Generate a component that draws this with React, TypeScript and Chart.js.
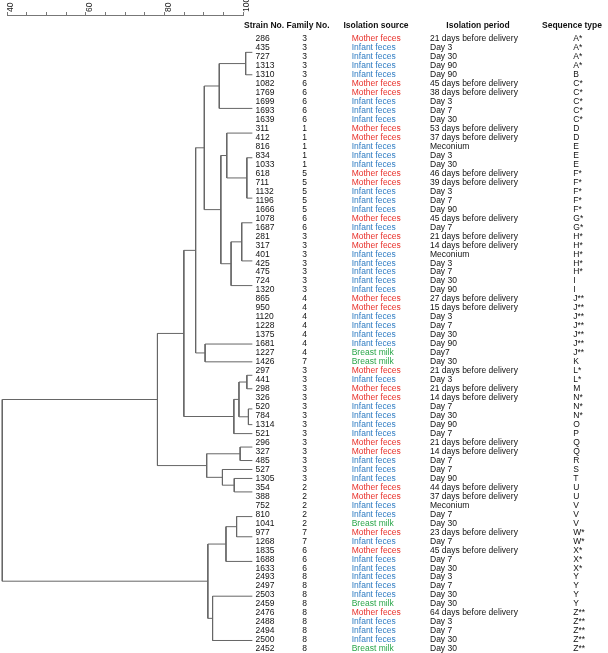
import React, { useEffect, useRef } from 'react';
import { Chart, registerables } from 'chart.js';

Chart.register(...registerables);

// ---------------- data ----------------
const strainNo = [
  286, 435, 727, 1313, 1310, 1082, 1769, 1699, 1693, 1639, 311, 412, 816, 834, 1033,
  618, 711, 1132, 1196, 1666, 1078, 1687, 281, 317, 401, 425, 475, 724, 1320, 865,
  950, 1120, 1228, 1375, 1681, 1227, 1426, 297, 441, 298, 326, 520, 784, 1314, 521,
  296, 327, 485, 527, 1305, 354, 388, 752, 810, 1041, 977, 1268, 1835, 1688, 1633,
  2493, 2497, 2503, 2459, 2476, 2488, 2494, 2500, 2452,
];

const familyNo = [
  3, 3, 3, 3, 3, 6, 6, 6, 6, 6, 1, 1, 1, 1, 1, 5, 5, 5, 5, 5, 6, 6, 3, 3, 3, 3, 3, 3, 3,
  4, 4, 4, 4, 4, 4, 4, 7, 3, 3, 3, 3, 3, 3, 3, 3, 3, 3, 3, 3, 3, 2, 2, 2, 2, 2, 7, 7,
  6, 6, 6, 8, 8, 8, 8, 8, 8, 8, 8, 8,
];

const M = 'Mother feces';
const I = 'Infant feces';
const B = 'Breast milk';
const isolationSource = [
  M, I, I, I, I, M, M, I, I, I, M, M, I, I, I, M, M, I, I, I, M, I, M, M, I, I, I, I, I,
  M, M, I, I, I, I, B, B, M, I, M, M, I, I, I, I, M, M, I, I, I, M, M, I, I, B, M, I,
  M, I, I, I, I, I, B, M, I, I, I, B,
];

const isolationPeriod = [
  '21 days before delivery', 'Day 3', 'Day 30', 'Day 90', 'Day 90',
  '45 days before delivery', '38 days before delivery', 'Day 3', 'Day 7', 'Day 30',
  '53 days before delivery', '37 days before delivery', 'Meconium', 'Day 3', 'Day 30',
  '46 days before delivery', '39 days before delivery', 'Day 3', 'Day 7', 'Day 90',
  '45 days before delivery', 'Day 7',
  '21 days before delivery', '14 days before delivery', 'Meconium', 'Day 3', 'Day 7',
  'Day 30', 'Day 90',
  '27 days before delivery', '15 days before delivery', 'Day 3', 'Day 7', 'Day 30', 'Day 90', 'Day7',
  'Day 30',
  '21 days before delivery', 'Day 3',
  '21 days before delivery',
  '14 days before delivery', 'Day 7', 'Day 30',
  'Day 90',
  'Day 7',
  '21 days before delivery', '14 days before delivery',
  'Day 7', 'Day 7', 'Day 90',
  '44 days before delivery', '37 days before delivery',
  'Meconium', 'Day 7', 'Day 30',
  '23 days before delivery', 'Day 7',
  '45 days before delivery', 'Day 7', 'Day 30',
  'Day 3', 'Day 7', 'Day 30', 'Day 30',
  '64 days before delivery', 'Day 3', 'Day 7', 'Day 30', 'Day 30',
];

const sequenceType = [
  'A*', 'A*', 'A*', 'A*', 'B', 'C*', 'C*', 'C*', 'C*', 'C*', 'D', 'D', 'E', 'E', 'E',
  'F*', 'F*', 'F*', 'F*', 'F*', 'G*', 'G*', 'H*', 'H*', 'H*', 'H*', 'H*', 'I', 'I',
  'J**', 'J**', 'J**', 'J**', 'J**', 'J**', 'J**', 'K', 'L*', 'L*', 'M', 'N*', 'N*', 'N*',
  'O', 'P', 'Q', 'Q', 'R', 'S', 'T', 'U', 'U', 'V', 'V', 'V', 'W*', 'W*', 'X*', 'X*', 'X*',
  'Y', 'Y', 'Y', 'Y', 'Z**', 'Z**', 'Z**', 'Z**', 'Z**',
];

const headers = ['Strain No.', 'Family No.', 'Isolation source', 'Isolation period', 'Sequence type'];

// similarity axis
const axisTicks = [40, 45, 50, 55, 60, 65, 70, 75, 80, 85, 90, 95, 100];
const axisLabels = [40, 60, 80, 100];

// leaf tips (identical profiles join here)
const LEAF = 102.3;

// dendrogram: [left, right, similarity]; leaves are strain numbers
const tree: any = [
  [
    [
      [
        [
          [
            [[[286, 435, LEAF], [727, 1313, LEAF], LEAF], 1310, 100.6],
            [[[1082, 1769, LEAF], [1699, 1693, LEAF], LEAF], 1639, LEAF],
            93.9,
          ],
          [
            [
              [311, 412, LEAF],
              [
                [[816, 834, LEAF], 1033, LEAF],
                [[[618, 711, LEAF], [1132, 1196, LEAF], LEAF], 1666, LEAF],
                100.9,
              ],
              95.8,
            ],
            [
              [[1078, 1687, LEAF], [[[281, 317, LEAF], [401, 425, LEAF], LEAF], 475, LEAF], 99.6],
              [724, 1320, LEAF],
              96.9,
            ],
            94.3,
          ],
          90.1,
        ],
        [[[[[[[865, 950, LEAF], 1120, LEAF], 1228, LEAF], 1375, LEAF], 1681, LEAF], 1227, LEAF], 1426, 90.3],
        87.9,
      ],
      [[[[297, 441, LEAF], 298, 100.9], [[[326, 520, LEAF], 784, LEAF], 1314, 101.3], 98.9], 521, 97.6],
      84.9,
    ],
    [[[296, 327, LEAF], 485, 99.2], [527, [1305, [354, 388, LEAF], 97.7], 94.7], 90.7],
    78.2,
  ],
  [
    [[[[752, 810, LEAF], 1041, LEAF], [977, 1268, LEAF], 98.3], [[1835, 1688, LEAF], 1633, LEAF], 95.6],
    [
      [[[2493, 2497, LEAF], 2503, LEAF], 2459, LEAF],
      [[[[2476, 2488, LEAF], 2494, LEAF], 2500, LEAF], 2452, LEAF],
      92.2,
    ],
    91.0,
  ],
  38.8,
];

// ---------------- styles ----------------
const FONT = '"Liberation Sans", Arial, Helvetica, sans-serif';
const sourceColor: Record<string, string> = {
  'Mother feces': '#e8302a',
  'Infant feces': '#2f7cc3',
  'Breast milk': '#2aa64a',
};
const LINE_COLOR = '#666666';

function buildSegments() {
  const segs: { x: number; y: number }[][] = [];
  const walk = (node: any): { x: number; y: number } => {
    if (typeof node === 'number') {
      return { x: LEAF, y: strainNo.indexOf(node) };
    }
    const a = walk(node[0]);
    const b = walk(node[1]);
    const h = node[2];
    segs.push([
      { x: a.x, y: a.y },
      { x: h, y: a.y },
      { x: h, y: b.y },
      { x: b.x, y: b.y },
    ]);
    return { x: h, y: (a.y + b.y) / 2 };
  };
  walk(tree);
  return segs;
}

const tablePlugin = {
  id: 'tablePlugin',
  afterDraw(chart: any) {
    const ctx = chart.ctx;
    const yS = chart.scales.y;
    ctx.save();
    ctx.textBaseline = 'middle';
    // headers
    ctx.font = `bold 8.5px ${FONT}`;
    ctx.fillStyle = '#111';
    const hy = 26;
    ctx.textAlign = 'left';
    ctx.fillText(headers[0], 244, hy);
    ctx.textAlign = 'center';
    ctx.fillText(headers[1], 308, hy);
    ctx.fillText(headers[2], 376, hy);
    ctx.fillText(headers[3], 478, hy);
    ctx.fillText(headers[4], 572, hy);
    // rows
    ctx.font = `8.5px ${FONT}`;
    for (let i = 0; i < strainNo.length; i++) {
      const y = yS.getPixelForValue(i);
      ctx.fillStyle = '#111';
      ctx.textAlign = 'left';
      ctx.fillText(String(strainNo[i]), 255.5, y);
      ctx.textAlign = 'center';
      ctx.fillText(String(familyNo[i]), 304.5, y);
      ctx.textAlign = 'left';
      ctx.fillStyle = sourceColor[isolationSource[i]];
      ctx.fillText(isolationSource[i], 351.7, y);
      ctx.fillStyle = '#111';
      ctx.fillText(isolationPeriod[i], 430, y);
      ctx.fillText(sequenceType[i], 573.3, y);
    }
    ctx.restore();
  },
};

export default function App() {
  const ref = useRef<HTMLCanvasElement | null>(null);
  useEffect(() => {
    if (!ref.current) return;
    const segs = buildSegments();
    const chart = new Chart(ref.current, {
      type: 'scatter',
      data: {
        datasets: segs.map((s) => ({
          data: s,
          showLine: true,
          borderColor: LINE_COLOR,
          borderWidth: 1,
          pointRadius: 0,
          pointHoverRadius: 0,
          fill: false,
          clip: false as any,
        })),
      },
      options: {
        animation: false,
        responsive: false,
        events: [],
        layout: { padding: { left: 7, right: 608 - 243.3, top: 0, bottom: 0 } },
        plugins: { legend: { display: false }, tooltip: { enabled: false } },
        scales: {
          x: {
            type: 'linear',
            position: 'top',
            min: 40,
            max: 100,
            afterBuildTicks: (s: any) => {
              s.ticks = axisTicks.map((v) => ({ value: v }));
            },
            afterFit: (s: any) => {
              s.height = 15;
              s.paddingLeft = 0;
              s.paddingRight = 0;
            },
            border: { display: true, color: '#777', width: 1 },
            grid: { display: true, drawOnChartArea: false, drawTicks: true, tickLength: 3, color: '#777' },
            ticks: {
              autoSkip: false,
              minRotation: 90,
              maxRotation: 90,
              padding: 0,
              labelOffset: 14,
              color: '#222',
              font: { family: FONT, size: 8.5 },
              callback: (v: any) => (axisLabels.includes(Number(v)) ? String(v) : ''),
            },
          },
          y: {
            type: 'linear',
            display: false,
            reverse: true,
            min: -2.664,
            max: 68.457,
          },
        },
      },
      plugins: [tablePlugin],
    });
    return () => chart.destroy();
  }, []);
  return (
    <div style={{ position: 'absolute', left: 0, top: 0, width: 608, height: 653, background: '#fff' }}>
      <canvas ref={ref} width={608} height={653} style={{ width: 608, height: 653, display: 'block' }} />
    </div>
  );
}
